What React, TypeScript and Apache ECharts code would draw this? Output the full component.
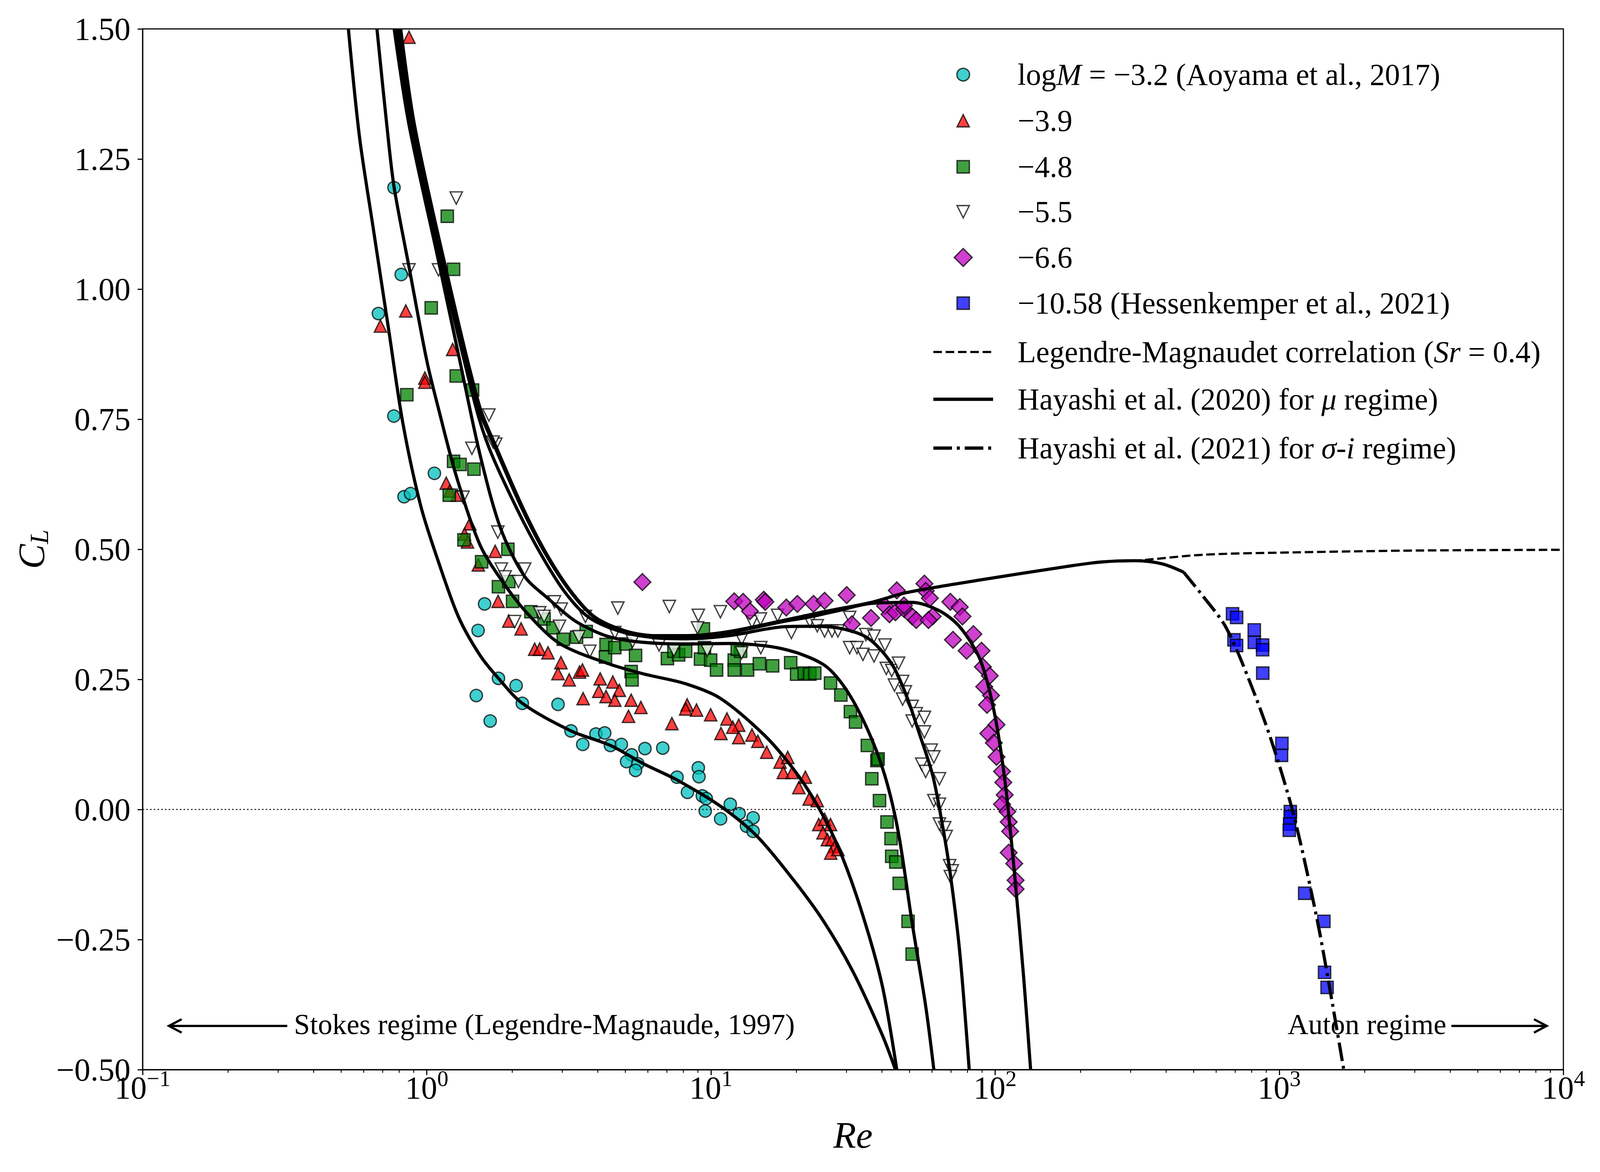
import React, { useEffect, useRef } from "react";
import * as echarts from "echarts";

const FONT = "'Liberation Serif', 'DejaVu Serif', serif";
const REF_W = 4500;
const REF_H = 3000;

// ---------- axis ranges ----------
const xRange = [0.1, 10000];
const yRange = [-0.5, 1.5];
const yStep = 0.25;

// ---------- experimental data: [Re, C_L] ----------
const cyanM32: number[][] = [
  [0.767, 1.195], [0.813, 1.028], [0.676, 0.953], [0.766, 0.756], [1.064, 0.646], [0.832, 0.601],
  [0.877, 0.607], [1.598, 0.395], [1.516, 0.344], [1.788, 0.252], [2.063, 0.238], [1.494, 0.219],
  [2.169, 0.204], [1.672, 0.17], [2.897, 0.202], [3.218, 0.151], [3.54, 0.125], [3.94, 0.145],
  [4.23, 0.147], [4.43, 0.123], [4.84, 0.125], [5.26, 0.105], [5.05, 0.092], [5.53, 0.088],
  [5.43, 0.075], [5.86, 0.117], [6.77, 0.118], [7.6, 0.062], [9.03, 0.08], [9.08, 0.063],
  [8.27, 0.033], [9.33, 0.026], [9.63, 0.021], [9.55, -0.003], [10.82, -0.018], [11.7, 0.01],
  [12.57, -0.008], [14.08, -0.016], [13.34, -0.032], [14.08, -0.042],
];

const redM39: number[][] = [
  [0.866, 1.484], [0.844, 0.958], [0.687, 0.929], [1.234, 0.884], [0.985, 0.829], [0.985, 0.821],
  [1.171, 0.627], [1.205, 0.612], [1.279, 0.604], [1.418, 0.549], [1.358, 0.529], [1.391, 0.514],
  [1.741, 0.496], [1.519, 0.47], [1.783, 0.4], [1.944, 0.362], [2.148, 0.347], [2.398, 0.308],
  [2.497, 0.308], [2.671, 0.301], [2.966, 0.282], [2.896, 0.261], [3.172, 0.249], [3.448, 0.264],
  [3.532, 0.268], [4.077, 0.251], [4.517, 0.245], [4.03, 0.227], [4.276, 0.217], [3.55, 0.213],
  [4.76, 0.229], [4.59, 0.21], [5.24, 0.21], [5.67, 0.196], [5.13, 0.179], [7.29, 0.165],
  [8.25, 0.201], [8.15, 0.193], [8.9, 0.191], [9.98, 0.182], [11.39, 0.174], [12.53, 0.162],
  [10.85, 0.146], [11.94, 0.158], [12.53, 0.138], [13.95, 0.143], [14.63, 0.131], [15.72, 0.11],
  [17.51, 0.091], [18.64, 0.1], [17.98, 0.071], [19.32, 0.071], [20.39, 0.042], [21.5, 0.062],
  [22.17, 0.02], [23.67, 0.017], [23.96, -0.029], [25.13, -0.019], [26.36, -0.029], [24.8, -0.045],
  [25.7, -0.058], [26.7, -0.058], [27.3, -0.071], [26.4, -0.084], [28.0, -0.077],
];

const greenM48: number[][] = [
  [1.181, 1.14], [1.243, 1.038], [1.037, 0.964], [1.27, 0.833], [1.45, 0.806], [0.851, 0.797],
  [1.243, 0.669], [1.31, 0.663], [1.466, 0.654], [1.2, 0.604], [1.352, 0.518], [1.56, 0.476],
  [1.93, 0.5], [1.788, 0.428], [1.944, 0.438], [2.005, 0.4], [2.325, 0.38], [2.588, 0.366],
  [2.781, 0.349], [3.023, 0.327], [3.367, 0.331], [3.642, 0.342], [4.276, 0.317], [4.256, 0.293],
  [4.59, 0.311], [5.02, 0.318], [5.24, 0.265], [5.28, 0.249], [5.43, 0.296], [7.03, 0.29],
  [7.41, 0.304], [7.7, 0.297], [8.15, 0.304], [9.41, 0.347], [9.19, 0.289], [9.49, 0.311],
  [9.98, 0.287], [10.47, 0.268], [12.08, 0.287], [12.08, 0.268], [12.72, 0.304], [13.46, 0.268],
  [14.81, 0.28], [16.49, 0.276], [12.38, 0.308], [19.09, 0.282], [20.03, 0.26], [21.3, 0.262],
  [22.3, 0.26], [23.2, 0.262], [26.36, 0.243], [28.66, 0.22], [30.97, 0.188], [32.29, 0.168],
  [35.53, 0.123], [38.39, 0.094], [38.76, 0.097], [36.83, 0.059], [39.2, 0.017], [41.66, -0.024],
  [43.05, -0.056], [43.28, -0.09], [44.74, -0.101], [45.99, -0.142], [49.41, -0.215], [51.08, -0.278],
];

const whiteM55: number[][] = [
  [1.27, 1.175], [0.866, 1.037], [1.1, 1.037], [1.655, 0.758], [1.75, 0.702], [1.442, 0.694],
  [1.712, 0.706], [1.342, 0.6], [1.779, 0.533], [1.83, 0.462], [1.888, 0.447], [2.102, 0.438],
  [2.211, 0.462], [2.038, 0.361], [2.497, 0.378], [2.588, 0.371], [2.815, 0.399], [2.974, 0.385],
  [2.931, 0.352], [3.432, 0.332], [3.75, 0.304], [3.617, 0.371], [4.705, 0.387], [4.59, 0.34],
  [5.3, 0.323], [6.57, 0.316], [7.14, 0.39], [7.41, 0.306], [9.03, 0.373], [8.97, 0.349],
  [9.7, 0.306], [10.8, 0.38], [12.83, 0.328], [12.83, 0.301], [13.95, 0.361], [14.94, 0.366],
  [14.98, 0.311], [17.17, 0.373], [19.2, 0.34], [22.3, 0.362], [23.67, 0.353], [25.13, 0.343],
  [26.68, 0.343], [27.99, 0.343], [30.78, 0.369], [30.78, 0.311], [32.67, 0.311], [35.11, 0.336],
  [34.28, 0.298], [37.5, 0.333], [40.97, 0.316], [37.5, 0.295], [41.42, 0.271], [43.28, 0.267],
  [45.74, 0.281], [44.25, 0.239], [47.28, 0.246], [48.34, 0.226], [47.28, 0.212], [51.08, 0.198],
  [51.08, 0.17], [52.8, 0.184], [56.4, 0.177], [56.4, 0.149], [59.6, 0.114], [60.9, 0.101],
  [55.2, 0.087], [57.0, 0.073], [63.7, 0.059], [60.9, 0.017], [63.7, 0.01], [63.7, -0.028],
  [66.5, -0.035], [67.3, -0.052], [69.2, -0.108], [70.7, -0.118], [69.6, -0.129],
];

const magentaM66: number[][] = [
  [5.74, 0.437], [12.08, 0.4], [12.98, 0.399], [13.72, 0.381], [15.35, 0.403], [15.54, 0.399],
  [18.42, 0.388], [20.15, 0.395], [22.97, 0.395], [25.13, 0.401], [30.06, 0.412], [31.34, 0.356],
  [36.6, 0.368], [41.0, 0.391], [45.1, 0.421], [42.5, 0.375], [44.6, 0.379], [47.9, 0.385],
  [47.8, 0.392], [51.08, 0.371], [52.8, 0.364], [56.4, 0.434], [57.0, 0.42], [58.96, 0.406],
  [60.3, 0.371], [58.3, 0.364], [69.6, 0.399], [75.1, 0.389], [71.1, 0.326], [76.8, 0.371],
  [79.4, 0.305], [83.9, 0.337], [89.6, 0.305], [90.6, 0.274], [95.8, 0.257], [91.6, 0.236],
  [96.8, 0.219], [93.7, 0.201], [101.2, 0.163], [94.7, 0.146], [99.0, 0.128], [101.2, 0.101],
  [105.8, 0.073], [106.9, 0.052], [108.1, 0.028], [105.8, 0.01], [110.5, -0.004], [111.7, -0.024],
  [113.0, -0.042], [111.7, -0.083], [116.8, -0.104], [118.1, -0.136], [118.1, -0.153],
];

const blueM1058: number[][] = [
  [685, 0.376], [708, 0.369], [693, 0.326], [708, 0.315], [817, 0.345], [817, 0.321],
  [874, 0.316], [874, 0.307], [875, 0.262], [1022, 0.127], [1019, 0.104], [1094, -0.004],
  [1094, -0.014], [1088, -0.028], [1085, -0.04], [1229, -0.161], [1436, -0.215], [1444, -0.313],
  [1474, -0.342],
];

// ---------- model curves: [Re, C_L] ----------
const curveM32: number[][] = [
  [0.53, 1.5], [0.58, 1.292], [0.649, 1.115], [0.735, 0.921], [0.825, 0.741], [0.953, 0.583],
  [1.101, 0.475], [1.296, 0.369], [1.541, 0.296], [1.788, 0.252], [2.169, 0.204], [3.218, 0.151],
  [4.43, 0.123], [5.83, 0.087], [7.52, 0.058], [10.76, 0.007], [14.5, -0.051], [19.5, -0.135],
  [24.8, -0.213], [31.5, -0.31], [40, -0.432], [44.6, -0.5],
];
const curveM39: number[][] = [
  [0.668, 1.5], [0.731, 1.292], [0.768, 1.195], [0.866, 1.043], [1.0, 0.863], [1.1, 0.77],
  [1.27, 0.641], [1.541, 0.508], [1.869, 0.434], [2.267, 0.376], [2.932, 0.319], [4.312, 0.281],
  [5.84, 0.26], [8.1, 0.242], [10.76, 0.214], [15.4, 0.143], [19.5, 0.078], [23.4, 0.013],
  [28.0, -0.071], [33.5, -0.187], [40, -0.336], [45.1, -0.5],
];
const curveM48: number[][] = [
  [0.768, 1.5], [0.866, 1.316], [1.09, 1.064], [1.31, 0.86], [1.541, 0.681], [1.82, 0.54],
  [2.209, 0.448], [2.679, 0.405], [3.334, 0.362], [4.312, 0.333], [5.58, 0.322], [8.0, 0.318],
  [11.58, 0.319], [17.8, 0.309], [24.8, 0.279], [29.7, 0.233], [35.5, 0.155], [40.9, 0.066],
  [45.7, -0.045], [51.1, -0.219], [57.0, -0.378], [60.9, -0.5],
];
const curveM55: number[][] = [
  [0.787, 1.5], [0.883, 1.316], [1.11, 1.064], [1.483, 0.777], [1.665, 0.692], [2.08, 0.577],
  [2.52, 0.491], [3.05, 0.419], [3.7, 0.37], [4.8, 0.342], [6.34, 0.33], [8.2, 0.328],
  [11.58, 0.334], [17.9, 0.351], [22.0, 0.352], [28.0, 0.349], [35.5, 0.33], [42.9, 0.283],
  [48.5, 0.222], [53.9, 0.149], [60.3, 0.066], [65.0, -0.024], [69.5, -0.122], [75.1, -0.274],
  [81.1, -0.5],
];
const curveM66: number[][] = [
  [0.804, 1.5], [0.896, 1.316], [1.128, 1.064], [1.51, 0.777], [1.752, 0.692], [2.17, 0.577],
  [2.62, 0.491], [3.2, 0.419], [3.88, 0.37], [5.0, 0.342], [6.4, 0.333], [8.2, 0.332],
  [11.58, 0.34], [17.9, 0.361], [22.3, 0.37], [28, 0.382], [36.7, 0.396], [51, 0.398],
  [63.6, 0.382], [75.1, 0.351], [88.6, 0.288], [99, 0.191], [108.1, 0.059], [116.7, -0.115],
  [126.1, -0.323], [133.4, -0.5],
];
const curveM1058Mu: number[][] = [
  [0.81, 1.5], [0.905, 1.316], [1.14, 1.064], [1.53, 0.777], [1.77, 0.692], [2.19, 0.577],
  [2.64, 0.491], [3.22, 0.419], [3.9, 0.37], [5.0, 0.343], [6.4, 0.334], [8.2, 0.334],
  [11.58, 0.342], [17.9, 0.363], [25, 0.38], [36.7, 0.398], [49, 0.417], [88.6, 0.441],
  [179, 0.467], [236, 0.4755], [311, 0.478], [387, 0.472], [461, 0.456],
];
const curveSigmaI: number[][] = [
  [461, 0.456], [539, 0.41], [648, 0.351], [778, 0.253], [935, 0.135], [1125, -0.011],
  [1352, -0.205], [1483, -0.323], [1687, -0.5],
];
const curveLM: number[][] = [
  [250, 0.4765], [311, 0.478], [539, 0.4895], [1125, 0.494], [3195, 0.4977], [10000, 0.499],
];

// ---------- legend labels ----------
const legendLabels = [
  "log{i|M} = \u22123.2 (Aoyama et al., 2017)",
  "\u22123.9",
  "\u22124.8",
  "\u22125.5",
  "\u22126.6",
  "\u221210.58 (Hessenkemper et al., 2021)",
  "Legendre-Magnaudet correlation ({i|Sr} = 0.4)",
  "Hayashi et al. (2020) for {i|\u03bc} regime)",
  "Hayashi et al. (2021) for {i|\u03c3}-{i|i} regime)",
];
const legendRowsY = [191, 309, 427, 542, 659, 776, 901, 1022, 1147];

const minus = (s: string) => s.replace("-", "\u2212");

export default function App() {
  const ref = useRef<HTMLDivElement>(null);
  const vw = Math.min(window.innerWidth || REF_W, document.documentElement.clientWidth || REF_W, REF_W);
  const vh = Math.min(window.innerHeight || REF_H, REF_H);

  useEffect(() => {
    const W = vw;
    const H = vh;
    const sx = W / REF_W;
    const sy = H / REF_H;
    const f = (sx + sy) / 2;
    const X = (v: number) => v * sx;
    const Y = (v: number) => v * sy;
    const GRID = { left: X(401), right: X(103), top: Y(74), bottom: Y(262) };

    const chart = echarts.init(ref.current!, null, { renderer: "svg", width: W, height: H });

    const scatter = (name: string, data: number[][], symbol: string, color: string, size: number, rotate = 0) => ({
      type: "scatter",
      name,
      data,
      symbol,
      symbolSize: size * f,
      symbolRotate: rotate,
      itemStyle: { color, borderColor: "#000", borderWidth: 3.5 * f, opacity: 0.75 },
      z: 2,
      silent: true,
    });

    const curve = (name: string, data: number[][], type: any, width: number) => ({
      type: "line",
      name,
      data,
      symbol: "none",
      showSymbol: false,
      smooth: 0.3,
      clip: true,
      lineStyle: { color: "#000", width: width * f, type, cap: "butt" },
      z: 3,
      silent: true,
    });

    const option: any = {
      animation: false,
      backgroundColor: "#fff",
      grid: { ...GRID, show: true, borderColor: "#000", borderWidth: 3 * f, backgroundColor: "transparent" },
      xAxis: {
        type: "log",
        logBase: 10,
        min: xRange[0],
        max: xRange[1],
        splitNumber: 5,
        splitLine: { show: false },
        axisLine: { show: true, onZero: false, lineStyle: { color: "#000", width: 3 * f } },
        axisTick: { show: true, length: 14 * sy, lineStyle: { color: "#000", width: 3 * f } },
        axisLabel: {
          margin: -6 * sy,
          formatter: (v: number) => {
            const e = Math.round(Math.log10(v));
            return `{b|10}{s|${e < 0 ? "\u2212" + -e : e}}`;
          },
          rich: {
            b: { fontFamily: FONT, fontSize: 86 * f, color: "#000" },
            s: { fontFamily: FONT, fontSize: 60 * f, color: "#000", padding: [0, 0, 50 * f, 0] },
          },
        },
        name: "Re",
        nameLocation: "middle",
        nameGap: 120 * sy,
        nameTextStyle: { fontFamily: FONT, fontSize: 100 * f, fontStyle: "italic", color: "#000" },
      },
      yAxis: {
        type: "value",
        min: yRange[0],
        max: yRange[1],
        interval: yStep,
        splitLine: { show: false },
        axisLine: { show: true, onZero: false, lineStyle: { color: "#000", width: 3 * f } },
        axisTick: { show: true, length: 14 * sx, lineStyle: { color: "#000", width: 3 * f } },
        axisLabel: {
          margin: 34 * sx,
          fontFamily: FONT,
          fontSize: 86 * f,
          color: "#000",
          formatter: (v: number) => minus(v.toFixed(2)),
        },
        name: "{c|C}{l|L}",
        nameLocation: "middle",
        nameRotate: 90,
        nameGap: 250 * sx,
        nameTextStyle: {
          rich: {
            c: { fontFamily: FONT, fontSize: 100 * f, fontStyle: "italic", color: "#000" },
            l: { fontFamily: FONT, fontSize: 70 * f, fontStyle: "italic", color: "#000", padding: [40 * f, 0, 0, 0] },
          },
        },
      },
      series: [
        scatter("logM = -3.2", cyanM32, "circle", "#00bfbf", 33),
        scatter("-3.9", redM39, "triangle", "#ff0000", 33),
        scatter("-4.8", greenM48, "rect", "#008000", 33),
        scatter("-5.5", whiteM55, "triangle", "#ffffff", 33, 180),
        scatter("-6.6", magentaM66, "diamond", "#bf00bf", 45),
        scatter("-10.58", blueM1058, "rect", "#0000ff", 33),
        {
          ...curve("LM correlation", curveLM, [23 * f, 10 * f], 6),
          markLine: {
            silent: true,
            symbol: ["none", "none"],
            label: { show: false },
            lineStyle: { type: [4 * f, 6 * f], color: "#000", width: 2.5 * f },
            data: [{ yAxis: 0 }],
          },
        },
        curve("mu -3.2", curveM32, "solid", 8.5),
        curve("mu -3.9", curveM39, "solid", 8.5),
        curve("mu -4.8", curveM48, "solid", 8.5),
        curve("mu -5.5", curveM55, "solid", 8.5),
        curve("mu -6.6", curveM66, "solid", 8.5),
        curve("mu -10.58", curveM1058Mu, "solid", 8.5),
        curve("sigma-i -10.58", curveSigmaI, [50 * f, 13 * f, 8 * f, 13 * f], 8.5),
      ],
    };

    chart.setOption(option);

    // ---- graphic: minor ticks, legend, annotations ----
    const elements: any[] = [];
    const bottomY = H - GRID.bottom;
    for (let d = -1; d <= 3; d++) {
      for (let k = 2; k <= 9; k++) {
        const x = chart.convertToPixel({ xAxisIndex: 0 } as any, k * Math.pow(10, d)) as number;
        elements.push({
          type: "line",
          silent: true,
          shape: { x1: x, y1: bottomY, x2: x, y2: bottomY + 8 * sy },
          style: { stroke: "#000", lineWidth: 2.4 * f },
        });
      }
    }

    // legend
    const mx = X(2709);
    const tx = X(2862);
    const mStyle = (fill: string) => ({ fill, stroke: "#000", lineWidth: 3.5 * f, opacity: 0.75 });
    const r = 16.5 * f;
    const ys = legendRowsY.map(Y);
    elements.push({ type: "circle", silent: true, shape: { cx: mx, cy: ys[0], r: 17 * f }, style: mStyle("#00bfbf") });
    elements.push({
      type: "polygon", silent: true,
      shape: { points: [[mx, ys[1] - r], [mx + r, ys[1] + r], [mx - r, ys[1] + r]] },
      style: mStyle("#ff0000"),
    });
    elements.push({ type: "rect", silent: true, shape: { x: mx - r, y: ys[2] - r, width: 2 * r, height: 2 * r }, style: mStyle("#008000") });
    elements.push({
      type: "polygon", silent: true,
      shape: { points: [[mx - r, ys[3] - r], [mx + r, ys[3] - r], [mx, ys[3] + r]] },
      style: mStyle("#ffffff"),
    });
    const dr = 24 * f;
    elements.push({
      type: "polygon", silent: true,
      shape: { points: [[mx, ys[4] - dr], [mx + dr, ys[4]], [mx, ys[4] + dr], [mx - dr, ys[4]]] },
      style: mStyle("#bf00bf"),
    });
    elements.push({ type: "rect", silent: true, shape: { x: mx - r, y: ys[5] - r, width: 2 * r, height: 2 * r }, style: mStyle("#0000ff") });
    const lx1 = X(2625);
    const lx2 = X(2793);
    elements.push({
      type: "line", silent: true,
      shape: { x1: lx1, y1: ys[6], x2: lx2, y2: ys[6] },
      style: { stroke: "#000", lineWidth: 6 * f, lineDash: [23 * f, 10 * f] },
    });
    elements.push({
      type: "line", silent: true,
      shape: { x1: lx1, y1: ys[7], x2: lx2, y2: ys[7] },
      style: { stroke: "#000", lineWidth: 9 * f },
    });
    elements.push({
      type: "line", silent: true,
      shape: { x1: lx1, y1: ys[8], x2: lx2, y2: ys[8] },
      style: { stroke: "#000", lineWidth: 9 * f, lineDash: [50 * f, 13 * f, 8 * f, 13 * f] },
    });
    legendLabels.forEach((t, i) => {
      elements.push({
        type: "text",
        silent: true,
        x: tx,
        y: ys[i],
        style: {
          text: t,
          fill: "#000",
          fontFamily: FONT,
          fontSize: 81 * f,
          align: "left",
          verticalAlign: "middle",
          rich: { i: { fontFamily: FONT, fontSize: 81 * f, fontStyle: "italic", fill: "#000" } },
        },
      });
    });

    // annotations
    const ay = chart.convertToPixel({ yAxisIndex: 0 } as any, -0.416) as number;
    const px = (v: number) => chart.convertToPixel({ xAxisIndex: 0 } as any, v) as number;
    const sTip = px(0.1238), sTail = px(0.323), sText = px(0.341);
    const aText = px(3873), aTail = px(4035), aTip = px(8733);
    const hx = 34 * f, hy = 18 * f;
    elements.push({
      type: "line", silent: true,
      shape: { x1: sTail, y1: ay, x2: sTip + 3, y2: ay },
      style: { stroke: "#000", lineWidth: 6 * f },
    });
    elements.push({
      type: "polyline", silent: true,
      shape: { points: [[sTip + hx, ay - hy], [sTip, ay], [sTip + hx, ay + hy]] },
      style: { stroke: "#000", lineWidth: 6 * f, fill: null },
    });
    elements.push({
      type: "text", silent: true, x: sText, y: ay - 4 * sy,
      style: {
        text: "Stokes regime (Legendre-Magnaude, 1997)",
        fill: "#000", fontFamily: FONT, fontSize: 77 * f, align: "left", verticalAlign: "middle",
      },
    });
    elements.push({
      type: "line", silent: true,
      shape: { x1: aTail, y1: ay, x2: aTip - 3, y2: ay },
      style: { stroke: "#000", lineWidth: 6 * f },
    });
    elements.push({
      type: "polyline", silent: true,
      shape: { points: [[aTip - hx, ay - hy], [aTip, ay], [aTip - hx, ay + hy]] },
      style: { stroke: "#000", lineWidth: 6 * f, fill: null },
    });
    elements.push({
      type: "text", silent: true, x: aText, y: ay - 4 * sy,
      style: {
        text: "Auton regime",
        fill: "#000", fontFamily: FONT, fontSize: 77 * f, align: "right", verticalAlign: "middle",
      },
    });

    chart.setOption({ graphic: { elements } });

    return () => chart.dispose();
  }, []);

  return (
    <div
      ref={ref}
      style={{ position: "absolute", left: 0, top: 0, width: vw, height: vh, background: "#fff" }}
    />
  );
}
